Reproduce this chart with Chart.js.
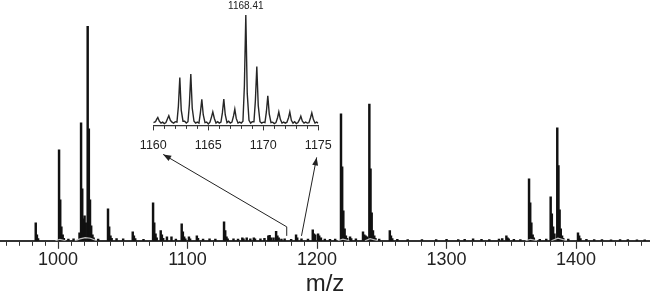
<!DOCTYPE html>
<html>
<head>
<meta charset="utf-8">
<script src="https://cdn.jsdelivr.net/npm/chart.js@4.4.1/dist/chart.umd.min.js"></script>
<style>
  html, body { margin: 0; padding: 0; background: #fff; }
  #wrap { position: relative; width: 650px; height: 298px; }
  #main { position: absolute; left: 0; top: 0; }
  #inset { position: absolute; left: 120px; top: 0; }
</style>
</head>
<body>
<div id="wrap">
  <canvas id="main" width="650" height="298"></canvas>
  <canvas id="inset" width="230" height="162"></canvas>
</div>
<script>
// main spectrum: peak m/z and relative intensity (% of the 1022.9 peak)
const peakMz = [
  982.8, 983.7, 984.6, 1000.8, 1001.7, 1002.6, 1003.6, 1004.5, 1008, 1012,
  1016.6, 1017.8, 1018.7, 1019.6, 1020.5, 1021.4, 1022.9, 1023.8, 1024.7, 1025.6,
  1026.6, 1027.5, 1031, 1038.6, 1039.5, 1040.5, 1041.4, 1045.2, 1050.3, 1057.7,
  1058.6, 1059.6, 1066, 1073.4, 1074.3, 1075.3, 1076.2, 1079.3, 1080.2, 1081.2,
  1084.1, 1087.6, 1091, 1095.5, 1096.4, 1097.4, 1098.3, 1101.1, 1102, 1107.2,
  1108.1, 1112, 1117, 1121.5, 1128.2, 1129.1, 1130.1, 1131, 1135.5, 1139,
  1142.3, 1143.2, 1145.7, 1148.5, 1151.2, 1152.1, 1156.3, 1159.4, 1162.4, 1163.4,
  1164.4, 1166.4, 1168.4, 1169.4, 1170.4, 1172.5, 1175, 1180, 1183.8, 1184.7,
  1188, 1193, 1196.7, 1197.6, 1198.6, 1200.8, 1201.7, 1203, 1206, 1210,
  1214, 1218.5, 1219.4, 1220.3, 1221.3, 1222.3, 1223.2, 1225.5, 1226.4, 1230,
  1235.5, 1236.5, 1237.5, 1238.4, 1240.4, 1241.3, 1242.2, 1243.2, 1244.2, 1245.1,
  1248, 1256.2, 1257.1, 1258.1, 1262, 1270, 1281, 1292, 1300, 1309,
  1314, 1320.5, 1327, 1333, 1340.5, 1343, 1346.2, 1347.1, 1348, 1352,
  1357, 1363.7, 1364.6, 1365.5, 1366.5, 1367.4, 1372, 1377, 1380.4, 1381.3,
  1382.3, 1383.3, 1385.5, 1386.4, 1387.3, 1388.2, 1389.2, 1390.1, 1394, 1401.5,
  1402.4, 1403.4, 1408, 1414, 1420, 1427, 1434, 1440, 1447, 1453
];
const peakIntensity = [
  8.4, 2.8, 1.0, 42.3, 19.1, 6.5, 2.8, 1.2, 0.8, 0.9,
  3.7, 54.9, 24.2, 10.2, 11.6, 8.4, 100, 52.1, 19.1, 7.0,
  2.8, 1.4, 0.8, 14.9, 6.5, 2.3, 1.2, 1.0, 0.9, 4.2,
  2.3, 1.0, 0.7, 17.7, 8.4, 3.3, 1.4, 4.7, 2.8, 1.2,
  1.9, 1.9, 0.8, 7.9, 4.2, 1.9, 0.9, 1.9, 0.9, 2.3,
  1.2, 0.8, 0.9, 0.8, 8.8, 4.7, 1.9, 0.9, 0.9, 0.8,
  1.4, 0.9, 1.4, 0.9, 1.4, 0.9, 0.9, 1.2, 2.3, 2.6,
  1.4, 1.4, 4.4, 2.3, 1.4, 0.8, 0.9, 0.7, 2.8, 1.4,
  0.9, 0.8, 5.1, 3.3, 2.8, 3.3, 2.3, 1.4, 0.8, 0.7,
  0.8, 59.1, 34.4, 14.0, 5.6, 2.3, 1.2, 1.9, 1.0, 0.9,
  4.2, 2.8, 2.3, 1.9, 63.7, 33.5, 13.0, 4.7, 2.3, 1.2,
  0.8, 4.7, 2.3, 1.0, 0.7, 0.6, 0.6, 0.6, 0.7, 0.6,
  0.7, 0.9, 0.7, 0.6, 0.8, 1.0, 2.3, 1.4, 0.9, 0.7,
  0.6, 28.8, 17.7, 8.4, 2.8, 1.4, 0.7, 0.8, 20.5, 12.6,
  6.5, 3.3, 52.6, 35.0, 14.4, 5.6, 2.3, 1.2, 0.8, 3.7,
  2.3, 1.0, 0.7, 0.6, 0.6, 0.5, 0.6, 0.6, 0.5, 0.5
];
// light grey envelope humps under the big clusters (null = gap)
const envMz = [998, 1001.5, 1006, 1007, 1013, 1017, 1021, 1025, 1030, 1031,
  1216, 1220, 1225, 1226, 1237, 1241, 1247, 1248, 1361, 1365, 1370, 1371, 1381, 1386, 1393];
const envIntensity = [0, 0.7, 0, null, 0, 0.9, 1.5, 1.2, 0, null,
  0, 0.8, 0, null, 0, 1.0, 0, null, 0, 0.7, 0, null, 0, 1.2, 0];
const mainTickLabels = [1000, 1100, 1200, 1300, 1400];

// inset profile 1160-1175 (px-like units above baseline)
const insetMz = [
  1160.0, 1160.2, 1160.3, 1160.41, 1160.55, 1160.7, 1160.85,
  1161.0, 1161.15, 1161.3, 1161.41, 1161.55, 1161.7, 1161.85,
  1162.0, 1162.15, 1162.28, 1162.41, 1162.54, 1162.7, 1162.85,
  1163.0, 1163.15, 1163.28, 1163.41, 1163.54, 1163.7, 1163.85,
  1164.0, 1164.15, 1164.28, 1164.41, 1164.54, 1164.7, 1164.85,
  1165.0, 1165.15, 1165.3, 1165.41, 1165.55, 1165.7, 1165.85,
  1166.0, 1166.15, 1166.28, 1166.41, 1166.54, 1166.7, 1166.85,
  1167.0, 1167.15, 1167.3, 1167.41, 1167.54, 1167.7, 1167.85,
  1168.0, 1168.15, 1168.28, 1168.41, 1168.54, 1168.7, 1168.85,
  1169.0, 1169.15, 1169.28, 1169.41, 1169.54, 1169.7, 1169.85,
  1170.0, 1170.15, 1170.28, 1170.41, 1170.54, 1170.7, 1170.85,
  1171.0, 1171.15, 1171.3, 1171.41, 1171.55, 1171.7, 1171.85,
  1172.0, 1172.15, 1172.3, 1172.41, 1172.55, 1172.7, 1172.85,
  1173.0, 1173.15, 1173.3, 1173.41, 1173.55, 1173.7, 1173.85,
  1174.0, 1174.15, 1174.3, 1174.41, 1174.55, 1174.7, 1174.85, 1175.0
];
const insetIntensity = [
  0.5, 1.5, 4, 6, 2, 0, 1,
  -0.5, 0.5, 5, 8, 3, 1, 0,
  1.5, 1, 18, 49, 14, 2, 2,
  0, 1.5, 20, 53, 16, 2, 0,
  1, 0, 11, 25.5, 9, 0.5, 1,
  -1, 1, 7, 12, 5, 0, 1.5,
  0, 1, 11, 26, 9, 0.5, 2,
  0, 1, 8, 15, 5, 0, 1,
  0, 2, 40, 116.5, 32, 3, 0,
  1.5, 1.5, 24, 61, 19, 1.5, 0,
  1, 0.5, 12, 29.5, 10, 0.5, 1,
  -0.5, 0.5, 6, 12, 4, 0, 1,
  0, 1, 6, 12, 3, 0, 1.5,
  -0.5, 0.5, 4, 7.5, 2, 0, 1,
  0, 0.5, 6, 11, 4, 0, 1, 0
];
const insetTickLabels = [1160, 1165, 1170, 1175];
const insetPeakLabel = 1168.41;

const FONT = "'Liberation Sans', Arial, Helvetica, sans-serif";
const INK = "#222";

// short minor ticks drawn from the scale's own tick list
const minorTicks = {
  id: "minorTicks",
  afterDraw(chart, args, opts) {
    const sx = chart.scales.x;
    const ctx = chart.ctx;
    const y0 = chart.chartArea.bottom;
    ctx.save();
    ctx.strokeStyle = opts.color;
    ctx.lineWidth = 1;
    ctx.beginPath();
    sx.ticks.forEach((t) => {
      if (opts.majors.includes(t.value)) return;
      const px = Math.round(sx.getPixelForValue(t.value)) + 0.5;
      ctx.moveTo(px, y0);
      ctx.lineTo(px, y0 + opts.length);
    });
    ctx.stroke();
    ctx.restore();
  },
};

const peakLabel = {
  id: "peakLabel",
  afterDraw(chart) {
    const i = insetMz.indexOf(insetPeakLabel);
    const px = chart.scales.x.getPixelForValue(insetPeakLabel);
    const py = chart.scales.y.getPixelForValue(insetIntensity[i]);
    const ctx = chart.ctx;
    ctx.save();
    ctx.font = "10px " + FONT;
    ctx.fillStyle = INK;
    ctx.textAlign = "center";
    ctx.textBaseline = "middle";
    ctx.fillText(insetPeakLabel.toFixed(2), px, py - 9);
    ctx.restore();
  },
};

const insetChart = new Chart(document.getElementById("inset"), {
  type: "line",
  data: {
    datasets: [{
      data: insetMz.map((m, i) => ({ x: m, y: insetIntensity[i] })),
      borderColor: "#262626",
      borderWidth: 1.4,
      pointRadius: 0,
      tension: 0,
    }],
  },
  options: {
    responsive: false,
    animation: false,
    devicePixelRatio: 1,
    layout: { padding: { left: 33.3, right: 31.7, top: 15, bottom: 0.6 } },
    plugins: {
      legend: { display: false },
      tooltip: { enabled: false },
      minorTicks: { color: "#333", length: 3.5, majors: insetTickLabels },
    },
    scales: {
      x: {
        type: "linear",
        min: 1160,
        max: 1175,
        border: { color: "#333", width: 1.2 },
        grid: {
          drawOnChartArea: false,
          tickLength: 5,
          tickColor: (c) => (c.tick && insetTickLabels.includes(c.tick.value) ? "#333" : "rgba(0,0,0,0)"),
        },
        ticks: {
          stepSize: 1,
          autoSkip: false,
          maxRotation: 0,
          padding: 8,
          color: INK,
          font: { family: FONT, size: 12.5 },
          callback: (v) => (insetTickLabels.includes(v) ? String(v) : ""),
        },
      },
      y: { display: false, min: -2.5, max: 116.5 },
    },
  },
  plugins: [minorTicks, peakLabel],
});

function arrowHead(ctx, sx, sy, tx, ty) {
  const a = Math.atan2(ty - sy, tx - sx);
  const len = 8, half = 3;
  ctx.beginPath();
  ctx.moveTo(tx, ty);
  ctx.lineTo(tx - len * Math.cos(a) + half * Math.sin(a), ty - len * Math.sin(a) - half * Math.cos(a));
  ctx.lineTo(tx - len * Math.cos(a) - half * Math.sin(a), ty - len * Math.sin(a) + half * Math.cos(a));
  ctx.closePath();
  ctx.fill();
}

// arrows from the zoomed region of the main trace to the inset axis
const zoomArrows = {
  id: "zoomArrows",
  afterDraw(chart) {
    const { ctx } = chart;
    const mx = chart.scales.x, my = chart.scales.y;
    const ix = insetChart.scales.x;
    const insetLeft = insetChart.canvas.offsetLeft;
    const insetBottom = insetChart.chartArea.bottom;
    ctx.save();
    ctx.strokeStyle = "#222";
    ctx.fillStyle = "#222";
    ctx.lineWidth = 1;
    // left
    const lx = mx.getPixelForValue(1176.6);
    const ly0 = my.getPixelForValue(2.3), ly1 = my.getPixelForValue(6.5);
    const ltx = insetLeft + ix.getPixelForValue(1160.9), lty = insetBottom + 29;
    ctx.beginPath();
    ctx.moveTo(lx, ly0);
    ctx.lineTo(lx, ly1);
    ctx.lineTo(ltx, lty);
    ctx.stroke();
    arrowHead(ctx, lx, ly1, ltx, lty);
    // right
    const rx = mx.getPixelForValue(1188);
    const ry0 = my.getPixelForValue(2.3);
    const rtx = insetLeft + ix.getPixelForValue(1174.85), rty = insetBottom + 32;
    ctx.beginPath();
    ctx.moveTo(rx, ry0);
    ctx.lineTo(rtx, rty);
    ctx.stroke();
    arrowHead(ctx, rx, ry0, rtx, rty);
    ctx.restore();
  },
};

new Chart(document.getElementById("main"), {
  type: "bar",
  data: {
    datasets: [
      {
        type: "line",
        data: envMz.map((m, i) => ({ x: m, y: envIntensity[i] })),
        borderColor: "#c4c4c4",
        borderWidth: 1.2,
        pointRadius: 0,
        spanGaps: false,
        order: 0,
      },
      {
        data: peakMz.map((m, i) => ({ x: m, y: peakIntensity[i] })),
        backgroundColor: "#111",
        barThickness: 1.8,
        grouped: false,
        order: 1,
      },
    ],
  },
  options: {
    responsive: false,
    animation: false,
    devicePixelRatio: 1,
    layout: { padding: { left: 0, right: 0, top: 26, bottom: 0 } },
    plugins: {
      legend: { display: false },
      tooltip: { enabled: false },
      minorTicks: { color: "#333", length: 5, majors: mainTickLabels },
    },
    scales: {
      x: {
        type: "linear",
        min: 955.2,
        max: 1457.1,
        offset: false,
        border: { color: "#333", width: 2 },
        grid: {
          offset: false,
          drawOnChartArea: false,
          tickLength: 8,
          tickWidth: 1.2,
          tickColor: (c) => (c.tick && mainTickLabels.includes(c.tick.value) ? "#333" : "rgba(0,0,0,0)"),
        },
        ticks: {
          stepSize: 10,
          includeBounds: false,
          autoSkip: false,
          maxRotation: 0,
          padding: 0,
          color: INK,
          font: { family: FONT, size: 18 },
          callback: (v) => (mainTickLabels.includes(v) ? String(v) : ""),
        },
        title: {
          display: true,
          text: "m/z",
          color: INK,
          font: { family: FONT, size: 24, lineHeight: 1.15 },
          padding: { top: 0, bottom: 0 },
        },
      },
      y: { display: false, min: 0, max: 100 },
    },
  },
  plugins: [minorTicks, zoomArrows],
});
</script>
</body>
</html>
